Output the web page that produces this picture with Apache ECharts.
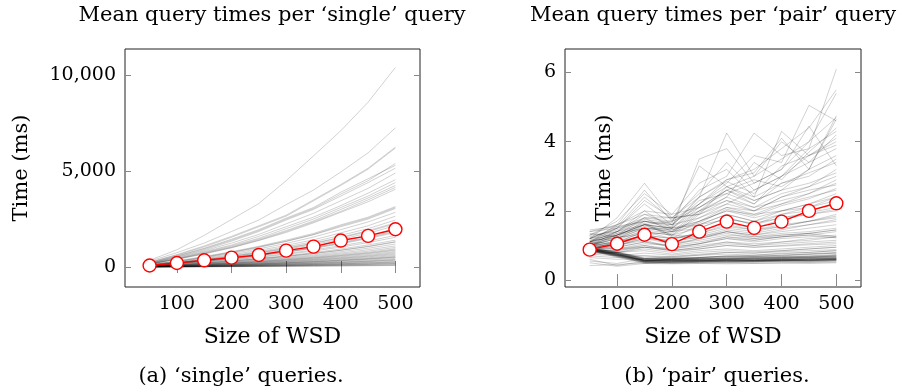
<!DOCTYPE html>
<html>
<head>
<meta charset="utf-8">
<script src="https://cdn.jsdelivr.net/npm/echarts@6/dist/echarts.min.js"></script>
<style>
  html, body { margin: 0; padding: 0; background: #fff; }
  #chart { width: 902px; height: 392px; }
</style>
</head>
<body>
<div id="chart"></div>
<script>
// x positions (size of WSD)
const SIZES = [50, 100, 150, 200, 250, 300, 350, 400, 450, 500];
const X_TICKS = [100, 200, 300, 400, 500];
const SINGLE_TICKS = [0, 5000, 10000];
const PAIR_TICKS = [0, 2, 4, 6];

// mean over all queries (red)
const SINGLE_MEAN = [80, 210, 350, 490, 630, 855, 1065, 1380, 1625, 1970];
const PAIR_MEAN = [0.88, 1.05, 1.31, 1.04, 1.40, 1.69, 1.51, 1.69, 2.00, 2.22];

// individual 'single' queries (grey)
const SINGLE_RUNS = [
  [350, 900, 1650, 2480, 3310, 4500, 5790, 7100, 8590, 10400],
  [300, 750, 1250, 1850, 2450, 3250, 4010, 4950, 5950, 7250],
  [250, 650, 1100, 1600, 2150, 2700, 3500, 4300, 5150, 6250],
  [240, 620, 1050, 1550, 2100, 2650, 3450, 4250, 5100, 6200],
  [200, 560, 950, 1400, 1900, 2500, 3050, 3800, 4500, 5400],
  [210, 580, 980, 1450, 1950, 2550, 3100, 3900, 4600, 5300],
  [190, 520, 900, 1350, 1850, 2450, 3000, 3700, 4400, 5150],
  [180, 500, 850, 1250, 1700, 2250, 2800, 3450, 4100, 4900],
  [170, 460, 800, 1150, 1600, 2100, 2600, 3200, 3850, 4550],
  [160, 440, 760, 1100, 1500, 2000, 2500, 3100, 3700, 4400],
  [150, 420, 730, 1050, 1450, 1900, 2400, 3000, 3600, 4250],
  [150, 410, 700, 1020, 1400, 1850, 2350, 2900, 3500, 4150],
  [140, 400, 680, 1000, 1380, 1800, 2300, 2850, 3400, 4050],
  [120, 320, 550, 800, 1080, 1400, 1750, 2200, 2600, 3150],
  [110, 300, 520, 770, 1050, 1350, 1700, 2150, 2550, 3100],
  [110, 290, 500, 750, 1020, 1330, 1680, 2100, 2500, 3050],
  [100, 270, 470, 700, 950, 1230, 1560, 1950, 2350, 2850],
  [90, 250, 430, 640, 870, 1130, 1420, 1780, 2150, 2650],
  [85, 230, 400, 590, 800, 1050, 1320, 1650, 2000, 2450],
  [80, 220, 380, 560, 760, 990, 1250, 1550, 1900, 2300],
  [80, 210, 370, 540, 740, 960, 1220, 1520, 1850, 2250],
  [75, 200, 350, 520, 700, 920, 1160, 1450, 1760, 2150],
  [70, 190, 330, 480, 650, 860, 1080, 1350, 1640, 2000],
  [65, 180, 310, 460, 620, 810, 1020, 1280, 1560, 1900],
  [65, 175, 300, 445, 605, 790, 995, 1245, 1520, 1850],
  [60, 170, 290, 430, 590, 770, 970, 1210, 1480, 1800],
  [55, 150, 270, 390, 540, 700, 890, 1110, 1350, 1650],
  [50, 140, 250, 370, 500, 660, 830, 1040, 1270, 1550],
  [45, 125, 220, 330, 450, 590, 750, 940, 1150, 1400],
  [45, 120, 210, 315, 430, 560, 710, 880, 1080, 1320],
  [40, 115, 205, 305, 420, 550, 700, 870, 1060, 1300],
  [40, 105, 190, 280, 385, 505, 640, 800, 980, 1200],
  [35, 95, 175, 260, 355, 465, 590, 735, 900, 1100],
  [35, 90, 160, 240, 330, 430, 545, 680, 830, 1020],
  [30, 85, 150, 220, 300, 400, 505, 630, 770, 950],
  [30, 80, 140, 210, 285, 380, 480, 600, 730, 900],
  [28, 75, 135, 200, 275, 360, 455, 570, 700, 860],
  [25, 70, 125, 185, 255, 335, 425, 530, 650, 800],
  [25, 65, 115, 170, 235, 310, 395, 490, 600, 750],
  [22, 60, 108, 160, 220, 290, 370, 460, 565, 700],
  [20, 55, 100, 150, 205, 270, 345, 430, 530, 650],
  [20, 50, 90, 135, 185, 245, 315, 395, 485, 600],
  [18, 45, 82, 125, 170, 225, 290, 360, 445, 550],
  [16, 42, 78, 118, 162, 215, 275, 345, 425, 520],
  [15, 40, 75, 112, 155, 205, 262, 328, 405, 500],
  [15, 38, 68, 102, 140, 185, 237, 297, 365, 450],
  [12, 32, 60, 90, 125, 165, 210, 262, 325, 400],
  [12, 30, 55, 84, 116, 153, 196, 245, 302, 375],
  [10, 28, 52, 78, 108, 143, 182, 228, 282, 350],
  [10, 25, 45, 68, 94, 124, 158, 198, 245, 300],
  [9, 22, 40, 60, 82, 108, 138, 173, 213, 265],
  [8, 20, 38, 57, 79, 104, 133, 166, 205, 250],
  [8, 18, 32, 48, 66, 87, 111, 139, 170, 210],
  [7, 16, 28, 42, 58, 76, 97, 122, 150, 185],
  [6, 15, 26, 38, 52, 68, 87, 109, 134, 165],
  [5, 12, 21, 30, 41, 54, 69, 86, 105, 130],
  [5, 10, 17, 24, 33, 43, 55, 69, 84, 100],
  [4, 8, 13, 19, 26, 34, 43, 54, 66, 80]
];

// individual 'pair' queries (grey)
const PAIR_RUNS = [
  [0.90, 0.75, 0.55, 0.55, 0.56, 0.55, 0.57, 0.58, 0.56, 0.60],
  [0.88, 0.72, 0.53, 0.54, 0.55, 0.56, 0.55, 0.57, 0.58, 0.58],
  [0.92, 0.78, 0.58, 0.57, 0.58, 0.57, 0.59, 0.60, 0.59, 0.62],
  [0.86, 0.70, 0.52, 0.52, 0.53, 0.54, 0.54, 0.55, 0.55, 0.57],
  [0.94, 0.80, 0.60, 0.60, 0.60, 0.61, 0.62, 0.62, 0.63, 0.65],
  [0.89, 0.76, 0.57, 0.56, 0.57, 0.58, 0.58, 0.59, 0.60, 0.61],
  [0.91, 0.74, 0.56, 0.58, 0.59, 0.58, 0.60, 0.61, 0.62, 0.64],
  [0.87, 0.73, 0.54, 0.53, 0.54, 0.53, 0.56, 0.56, 0.57, 0.59],
  [0.93, 0.79, 0.62, 0.61, 0.62, 0.63, 0.63, 0.64, 0.66, 0.68],
  [0.85, 0.68, 0.50, 0.51, 0.52, 0.52, 0.53, 0.54, 0.54, 0.56],
  [0.95, 0.82, 0.64, 0.63, 0.64, 0.65, 0.66, 0.67, 0.68, 0.70],
  [0.90, 0.77, 0.59, 0.59, 0.60, 0.60, 0.61, 0.63, 0.64, 0.66],
  [0.88, 0.71, 0.55, 0.56, 0.57, 0.59, 0.57, 0.58, 0.61, 0.63],
  [0.92, 0.81, 0.61, 0.62, 0.61, 0.62, 0.64, 0.65, 0.65, 0.67],
  [0.86, 0.69, 0.51, 0.50, 0.51, 0.50, 0.52, 0.53, 0.52, 0.55],
  [0.91, 0.76, 0.58, 0.60, 0.62, 0.64, 0.66, 0.68, 0.70, 0.74],
  [0.89, 0.72, 0.57, 0.58, 0.60, 0.61, 0.64, 0.66, 0.69, 0.72],
  [0.87, 0.70, 0.52, 0.50, 0.49, 0.50, 0.49, 0.50, 0.51, 0.52],
  [0.93, 0.80, 0.63, 0.64, 0.66, 0.68, 0.70, 0.72, 0.75, 0.78],
  [0.90, 0.74, 0.56, 0.55, 0.55, 0.57, 0.56, 0.57, 0.58, 0.60],
  [0.88, 0.74, 0.56, 0.57, 0.56, 0.58, 0.57, 0.59, 0.60, 0.62],
  [0.90, 0.75, 0.55, 0.54, 0.56, 0.55, 0.56, 0.58, 0.57, 0.59],
  [0.92, 0.77, 0.57, 0.58, 0.57, 0.59, 0.58, 0.60, 0.61, 0.63],
  [0.87, 0.71, 0.54, 0.55, 0.54, 0.56, 0.55, 0.57, 0.56, 0.58],
  [0.89, 0.73, 0.58, 0.60, 0.61, 0.63, 0.62, 0.65, 0.67, 0.70],
  [0.91, 0.78, 0.60, 0.62, 0.65, 0.68, 0.72, 0.76, 0.80, 0.85],
  [0.86, 0.66, 0.48, 0.47, 0.48, 0.47, 0.48, 0.49, 0.48, 0.50],
  [0.42, 0.45, 0.50, 0.48, 0.52, 0.55, 0.53, 0.56, 0.58, 0.60],
  [0.50, 0.40, 0.48, 0.52, 0.55, 0.60, 0.58, 0.62, 0.65, 0.70],
  [0.60, 0.42, 0.55, 0.60, 0.65, 0.70, 0.68, 0.72, 0.76, 0.80],
  [0.55, 0.48, 0.62, 0.68, 0.72, 0.80, 0.78, 0.85, 0.90, 0.95],
  [1.00, 0.95, 1.10, 0.95, 1.05, 1.20, 1.10, 1.20, 1.25, 1.30],
  [0.95, 0.90, 1.00, 0.90, 1.00, 1.10, 1.05, 1.10, 1.15, 1.25],
  [1.05, 1.00, 1.20, 1.05, 1.15, 1.30, 1.25, 1.35, 1.40, 1.50],
  [0.85, 0.85, 0.95, 0.85, 0.95, 1.05, 1.00, 1.05, 1.10, 1.15],
  [1.10, 1.05, 1.30, 1.10, 1.25, 1.45, 1.35, 1.50, 1.60, 1.70],
  [0.90, 0.95, 1.10, 1.00, 1.10, 1.25, 1.20, 1.30, 1.35, 1.45],
  [1.00, 1.10, 1.40, 1.20, 1.35, 1.60, 1.45, 1.55, 1.70, 1.85],
  [0.95, 1.00, 1.25, 1.05, 1.20, 1.40, 1.30, 1.40, 1.50, 1.60],
  [0.80, 0.80, 0.90, 0.80, 0.90, 1.00, 0.95, 1.00, 1.05, 1.10],
  [1.15, 1.20, 1.60, 1.30, 1.50, 1.80, 1.60, 1.80, 1.95, 2.10],
  [0.90, 0.85, 1.00, 0.85, 0.95, 1.10, 1.00, 1.10, 1.20, 1.25],
  [1.00, 1.00, 1.15, 0.95, 1.05, 1.25, 1.15, 1.25, 1.30, 1.40],
  [0.85, 0.80, 0.85, 0.75, 0.85, 0.90, 0.85, 0.90, 0.95, 1.00],
  [0.95, 0.90, 0.95, 0.85, 0.90, 1.00, 0.95, 0.98, 1.02, 1.05],
  [0.85, 1.00, 1.20, 1.15, 1.40, 1.65, 1.50, 1.75, 1.90, 2.05],
  [0.80, 0.90, 1.05, 1.00, 1.20, 1.40, 1.30, 1.45, 1.60, 1.75],
  [0.95, 1.05, 1.25, 1.10, 1.30, 1.50, 1.40, 1.55, 1.70, 1.90],
  [0.75, 0.80, 0.95, 0.90, 1.05, 1.20, 1.15, 1.25, 1.35, 1.45],
  [1.35, 1.25, 1.30, 1.20, 1.35, 1.55, 1.45, 1.60, 1.70, 1.80],
  [1.45, 1.55, 1.70, 1.50, 1.60, 1.75, 1.65, 1.80, 1.90, 2.00],
  [1.05, 1.35, 1.65, 1.30, 1.25, 1.40, 1.25, 1.30, 1.35, 1.25],
  [1.00, 1.30, 1.62, 1.25, 1.20, 1.35, 1.20, 1.25, 1.30, 1.22],
  [1.20, 1.80, 2.80, 1.80, 1.90, 2.20, 2.00, 2.20, 2.40, 2.60],
  [1.10, 1.60, 2.60, 1.70, 2.00, 2.40, 2.10, 2.30, 2.50, 2.80],
  [1.30, 1.70, 2.50, 1.90, 2.10, 2.60, 2.30, 2.60, 2.80, 3.10],
  [1.40, 1.50, 2.20, 1.60, 1.80, 2.10, 1.90, 2.00, 2.20, 2.40],
  [1.00, 1.40, 2.00, 1.50, 1.70, 2.00, 1.80, 2.00, 2.10, 2.30],
  [1.20, 1.30, 1.80, 1.40, 1.60, 1.90, 1.70, 1.90, 2.00, 2.20],
  [1.10, 1.50, 2.30, 1.80, 1.90, 2.30, 2.10, 2.50, 2.70, 3.00],
  [1.20, 1.55, 2.40, 1.75, 2.20, 2.70, 2.40, 2.80, 3.10, 3.40],
  [1.15, 1.35, 1.50, 1.45, 1.70, 2.10, 2.00, 2.40, 2.60, 2.75],
  [1.05, 1.25, 1.55, 1.45, 1.65, 2.05, 1.85, 2.15, 2.35, 2.65],
  [1.10, 1.40, 1.90, 1.60, 2.40, 4.25, 3.00, 3.50, 4.00, 4.70],
  [1.00, 1.30, 1.60, 1.50, 3.50, 3.80, 2.80, 3.20, 4.45, 3.30],
  [1.20, 1.50, 1.80, 1.70, 2.60, 3.00, 4.25, 3.60, 3.80, 4.30],
  [1.30, 1.60, 2.00, 1.90, 2.80, 3.20, 2.40, 4.30, 3.60, 4.10],
  [1.10, 1.40, 1.70, 1.60, 2.20, 2.80, 3.60, 3.40, 5.05, 4.60],
  [1.00, 1.20, 1.50, 1.40, 2.00, 2.60, 2.20, 3.00, 3.80, 6.10],
  [1.20, 1.40, 1.80, 1.80, 2.40, 2.90, 3.20, 3.80, 4.40, 5.50],
  [1.10, 1.30, 1.60, 1.50, 2.10, 2.50, 2.80, 3.20, 4.00, 5.40],
  [0.90, 1.10, 1.40, 1.30, 1.90, 2.70, 2.30, 2.60, 3.20, 4.65],
  [1.00, 1.20, 1.50, 1.40, 1.80, 2.20, 2.60, 3.00, 3.40, 4.20],
  [1.20, 1.50, 1.70, 1.60, 2.30, 2.50, 2.20, 2.80, 3.00, 3.50],
  [1.10, 1.30, 1.50, 1.50, 2.00, 2.30, 2.00, 2.40, 2.70, 3.20],
  [1.00, 1.20, 1.40, 1.30, 1.70, 2.00, 1.90, 2.20, 2.50, 2.90],
  [1.30, 1.40, 1.60, 1.70, 2.10, 2.60, 2.90, 2.70, 3.20, 3.60],
  [1.00, 1.10, 1.30, 1.20, 1.60, 1.90, 1.70, 2.00, 2.20, 2.50],
  [0.90, 1.10, 1.30, 1.40, 1.50, 1.80, 1.60, 1.90, 2.10, 2.40],
  [1.40, 1.60, 1.90, 1.80, 2.50, 3.40, 2.60, 3.00, 3.60, 4.00],
  [1.10, 1.30, 1.60, 1.50, 2.20, 2.90, 3.10, 4.10, 3.20, 4.75],
  [1.00, 1.25, 1.70, 1.55, 2.40, 2.85, 2.50, 3.30, 3.60, 3.90],
  [0.95, 1.15, 1.45, 1.35, 1.95, 2.40, 3.40, 2.90, 3.70, 4.40],
  [1.25, 1.45, 1.75, 1.65, 3.30, 2.70, 3.00, 4.00, 3.40, 3.80],
  [0.70, 0.65, 0.70, 0.65, 0.72, 0.75, 0.72, 0.78, 0.80, 0.85],
  [0.75, 0.70, 0.78, 0.72, 0.80, 0.85, 0.82, 0.85, 0.90, 0.95],
  [0.80, 0.75, 0.70, 0.68, 0.75, 0.80, 0.78, 0.82, 0.85, 0.88],
  [0.65, 0.60, 0.62, 0.60, 0.65, 0.70, 0.68, 0.70, 0.74, 0.78]
];

const FONT = 'DejaVu Serif';
const chart = echarts.init(document.getElementById('chart'), null, { renderer: 'canvas' });

const pairs = ys => SIZES.map((x, i) => [x, ys[i]]);

function tickStyle(values) {
  return { show: true, inside: true, length: 6, customValues: values, lineStyle: { color: '#888', width: 1 } };
}

function xAxes(grid) {
  const base = { type: 'value', gridIndex: grid, min: 5, max: 545, splitLine: { show: false }, axisLine: { show: false } };
  return [
    Object.assign({}, base, {
      position: 'bottom',
      axisTick: tickStyle(X_TICKS),
      axisLabel: { customValues: X_TICKS, margin: 8, fontFamily: FONT, fontSize: 19, color: '#000' },
      name: 'Size of WSD', nameLocation: 'middle', nameGap: 39,
      nameTextStyle: { fontFamily: FONT, fontSize: 22, color: '#000' }
    }),
    Object.assign({}, base, { position: 'top', axisTick: tickStyle(X_TICKS), axisLabel: { show: false } })
  ];
}

function yAxes(grid, min, max, ticks, gap, fmt) {
  const base = { type: 'value', gridIndex: grid, min: min, max: max, splitLine: { show: false }, axisLine: { show: false } };
  return [
    Object.assign({}, base, {
      position: 'left',
      axisTick: tickStyle(ticks),
      axisLabel: { customValues: ticks, margin: 9, fontFamily: FONT, fontSize: 19, color: '#000', formatter: fmt },
      name: 'Time (ms)', nameLocation: 'middle', nameGap: gap,
      nameTextStyle: { fontFamily: FONT, fontSize: 21, color: '#000' }
    }),
    Object.assign({}, base, { position: 'right', axisTick: tickStyle(ticks), axisLabel: { show: false } })
  ];
}

function greySeries(runs, xi, yi) {
  return runs.map(r => ({
    type: 'line', xAxisIndex: xi, yAxisIndex: yi, data: pairs(r),
    showSymbol: false, symbol: 'none', silent: true, z: 1,
    lineStyle: { color: 'rgba(0,0,0,0.18)', width: 1 }
  }));
}

function meanSeries(ys, xi, yi) {
  return {
    type: 'line', xAxisIndex: xi, yAxisIndex: yi, data: pairs(ys), z: 5,
    symbol: 'circle', symbolSize: 13,
    lineStyle: { color: '#ff0000', width: 1.4 },
    itemStyle: { color: '#fff', borderColor: '#ff0000', borderWidth: 1.4 }
  };
}

const titleFont = '21px "DejaVu Serif"';

const option = {
  animation: false,
  grid: [
    { left: 125, top: 49, width: 295, height: 238, show: true, borderColor: '#222', borderWidth: 1, backgroundColor: 'transparent' },
    { left: 565, top: 49, width: 296, height: 238, show: true, borderColor: '#222', borderWidth: 1, backgroundColor: 'transparent' }
  ],
  xAxis: [...xAxes(0), ...xAxes(1)],
  yAxis: [
    ...yAxes(0, -1040, 11360, SINGLE_TICKS, 93, v => v.toLocaleString('en-US')),
    ...yAxes(1, -0.2, 6.68, PAIR_TICKS, -50, v => String(v))
  ],
  series: [
    ...greySeries(SINGLE_RUNS, 0, 0),
    meanSeries(SINGLE_MEAN, 0, 0),
    ...greySeries(PAIR_RUNS, 2, 2),
    meanSeries(PAIR_MEAN, 2, 2)
  ],
  graphic: [
    { type: 'text', x: 272, y: 16, style: { text: 'Mean query times per ‘single’ query', font: titleFont, fill: '#000', align: 'center', verticalAlign: 'middle' } },
    { type: 'text', x: 713, y: 16, style: { text: 'Mean query times per ‘pair’ query', font: titleFont, fill: '#000', align: 'center', verticalAlign: 'middle' } },
    { type: 'text', x: 241, y: 377, style: { text: '(a) ‘single’ queries.', font: titleFont, fill: '#000', align: 'center', verticalAlign: 'middle' } },
    { type: 'text', x: 717, y: 377, style: { text: '(b) ‘pair’ queries.', font: titleFont, fill: '#000', align: 'center', verticalAlign: 'middle' } }
  ]
};

chart.setOption(option);
</script>
</body>
</html>
